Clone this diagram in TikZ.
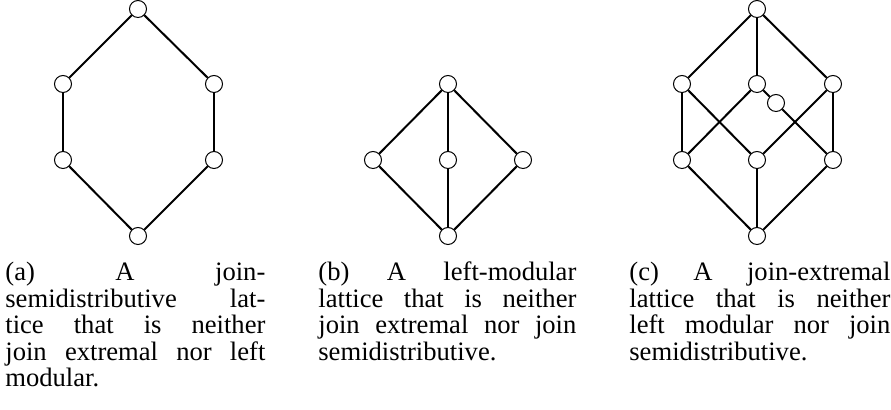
\documentclass[tikz,border=0pt]{standalone}
\usepackage{fontspec}
\setmainfont{Liberation Serif}
\begin{document}
\begin{tikzpicture}[x=0.5pt,y=-0.5pt,
  vtx/.style={circle,draw,fill=white,minimum size=8.5pt,inner sep=0pt,line width=0.5pt},
  edg/.style={line width=1pt},
  captext/.style={anchor=base west,inner sep=0pt,font=\fontsize{13.3pt}{14pt}\selectfont}]
\useasboundingbox (0,0) rectangle (891,410);
% (a)
\node[vtx] (a1) at (138,9) {};
\node[vtx] (a2) at (63,84) {};
\node[vtx] (a3) at (214,84) {};
\node[vtx] (a4) at (63,160) {};
\node[vtx] (a5) at (214,160) {};
\node[vtx] (a6) at (138,236) {};
\draw[edg] (a1) -- (a2); \draw[edg] (a1) -- (a3);
\draw[edg] (a2) -- (a4); \draw[edg] (a3) -- (a5);
\draw[edg] (a4) -- (a6); \draw[edg] (a5) -- (a6);
% (b)
\node[vtx] (b1) at (448,84) {};
\node[vtx] (b2) at (373,160) {};
\node[vtx] (b3) at (448,160) {};
\node[vtx] (b4) at (523,160) {};
\node[vtx] (b5) at (448,236) {};
\draw[edg] (b1) -- (b2); \draw[edg] (b1) -- (b3); \draw[edg] (b1) -- (b4);
\draw[edg] (b2) -- (b5); \draw[edg] (b3) -- (b5); \draw[edg] (b4) -- (b5);
% (c)
\node[vtx] (c1) at (757,9) {};
\node[vtx] (c2) at (682,84) {};
\node[vtx] (c3) at (757,84) {};
\node[vtx] (c4) at (833,84) {};
\node[vtx] (cx) at (776,103) {};
\node[vtx] (c5) at (682,160) {};
\node[vtx] (c6) at (757,160) {};
\node[vtx] (c7) at (833,160) {};
\node[vtx] (c8) at (757,236) {};
\draw[edg] (c1) -- (c2); \draw[edg] (c1) -- (c3); \draw[edg] (c1) -- (c4);
\draw[edg] (c2) -- (c5); \draw[edg] (c2) -- (c6);
\draw[edg] (c3) -- (c5); \draw[edg] (c3) -- (cx); \draw[edg] (cx) -- (c7);
\draw[edg] (c4) -- (c6); \draw[edg] (c4) -- (c7);
\draw[edg] (c5) -- (c8); \draw[edg] (c6) -- (c8); \draw[edg] (c7) -- (c8);
% captions
\node[captext] (ta1) at (5,281) {\makebox[130pt][s]{(a) A join-}};
\node[captext] (ta2) at (5,307.5) {\makebox[130pt][s]{semidistributive lat-}};
\node[captext] (ta3) at (5,334) {\makebox[130pt][s]{tice that is neither}};
\node[captext] (ta4) at (5,360.5) {\makebox[130pt][s]{join extremal nor left}};
\node[captext] (ta5) at (5,387) {modular.};
\node[captext] (tb1) at (318,281) {\makebox[129pt][s]{(b) A left-modular}};
\node[captext] (tb2) at (318,307.5) {\makebox[129pt][s]{lattice that is neither}};
\node[captext] (tb3) at (318,334) {\makebox[129pt][s]{join extremal nor join}};
\node[captext] (tb4) at (318,360.5) {semidistributive.};
\node[captext] (tc1) at (629,281) {\makebox[130.5pt][s]{(c) A join-extremal}};
\node[captext] (tc2) at (629,307.5) {\makebox[130.5pt][s]{lattice that is neither}};
\node[captext] (tc3) at (629,334) {\makebox[130.5pt][s]{left modular nor join}};
\node[captext] (tc4) at (629,360.5) {semidistributive.};
\end{tikzpicture}
\end{document}
